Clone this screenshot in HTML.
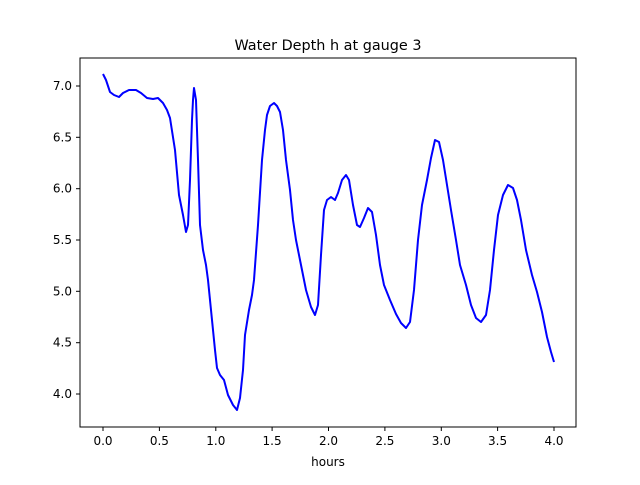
<!DOCTYPE html><html><head><style>body{margin:0;background:#fff}</style></head><body>
<svg width="640" height="480" xmlns="http://www.w3.org/2000/svg" font-family="DejaVu Sans, Liberation Sans, sans-serif">
<rect width="640" height="480" fill="#fff"/>
<text x="328" y="50" font-size="14.4" text-anchor="middle">Water Depth h at gauge 3</text>
<polyline fill="none" stroke="#0000ff" stroke-width="2" stroke-linejoin="round" points="103,74 106,80 110,92 114,95 119,97 123,93 129,90 136,90 141,93 147,98 153,99 158,98 163,103 167,110 170,118 175,150 179,195 183,215 186,232 188,225 190,180 192,120 193,100 194,88 196,100 198,160 200,225 203,250 206,265 208,280 210,300 212,320 215,350 217,368 220,375 224,380 228,395 233,405 237,410 240,398 243,370 245,335 249,310 252,295 254,280 258,225 262,160 265,130 267,115 270,106 274,103 277,106 280,112 283,130 286,160 290,190 293,220 296,240 301,265 306,290 311,307 315,315 318,305 321,255 324,210 327,200 331,197 335,200 338,193 342,180 346,175 349,180 353,205 357,225 360,227 364,218 368,208 372,212 376,235 380,265 384,285 390,300 396,314 401,323 406,328 410,322 414,290 418,240 422,205 427,180 431,158 435,140 439,142 443,160 447,185 451,210 456,240 460,265 466,285 471,305 476,318 481,322 486,315 490,290 494,250 498,215 503,195 508,185 513,188 517,200 521,220 526,250 532,275 537,292 542,312 547,337 551,352 554,362"/>
<rect x="80" y="58" width="496" height="369" fill="none" stroke="#000" stroke-width="1"/>
<g stroke="#000">
<line x1="103" y1="427" x2="103" y2="431"/><line x1="159.4" y1="427" x2="159.4" y2="431"/><line x1="215.8" y1="427" x2="215.8" y2="431"/><line x1="272.1" y1="427" x2="272.1" y2="431"/><line x1="328.5" y1="427" x2="328.5" y2="431"/><line x1="384.9" y1="427" x2="384.9" y2="431"/><line x1="441.3" y1="427" x2="441.3" y2="431"/><line x1="497.6" y1="427" x2="497.6" y2="431"/><line x1="554" y1="427" x2="554" y2="431"/>
<line x1="76" y1="86" x2="80" y2="86"/><line x1="76" y1="137.3" x2="80" y2="137.3"/><line x1="76" y1="188.7" x2="80" y2="188.7"/><line x1="76" y1="240" x2="80" y2="240"/><line x1="76" y1="291.3" x2="80" y2="291.3"/><line x1="76" y1="342.7" x2="80" y2="342.7"/><line x1="76" y1="394" x2="80" y2="394"/>
</g>
<g font-size="12" text-anchor="middle">
<text x="103" y="445">0.0</text><text x="159.4" y="445">0.5</text><text x="215.8" y="445">1.0</text><text x="272.1" y="445">1.5</text><text x="328.5" y="445">2.0</text><text x="384.9" y="445">2.5</text><text x="441.3" y="445">3.0</text><text x="497.6" y="445">3.5</text><text x="554" y="445">4.0</text>
<text x="328" y="466">hours</text>
</g>
<g font-size="12" text-anchor="end">
<text x="72" y="90">7.0</text><text x="72" y="141.3">6.5</text><text x="72" y="192.7">6.0</text><text x="72" y="244">5.5</text><text x="72" y="295.3">5.0</text><text x="72" y="346.7">4.5</text><text x="72" y="398">4.0</text>
</g>
</svg></body></html>
